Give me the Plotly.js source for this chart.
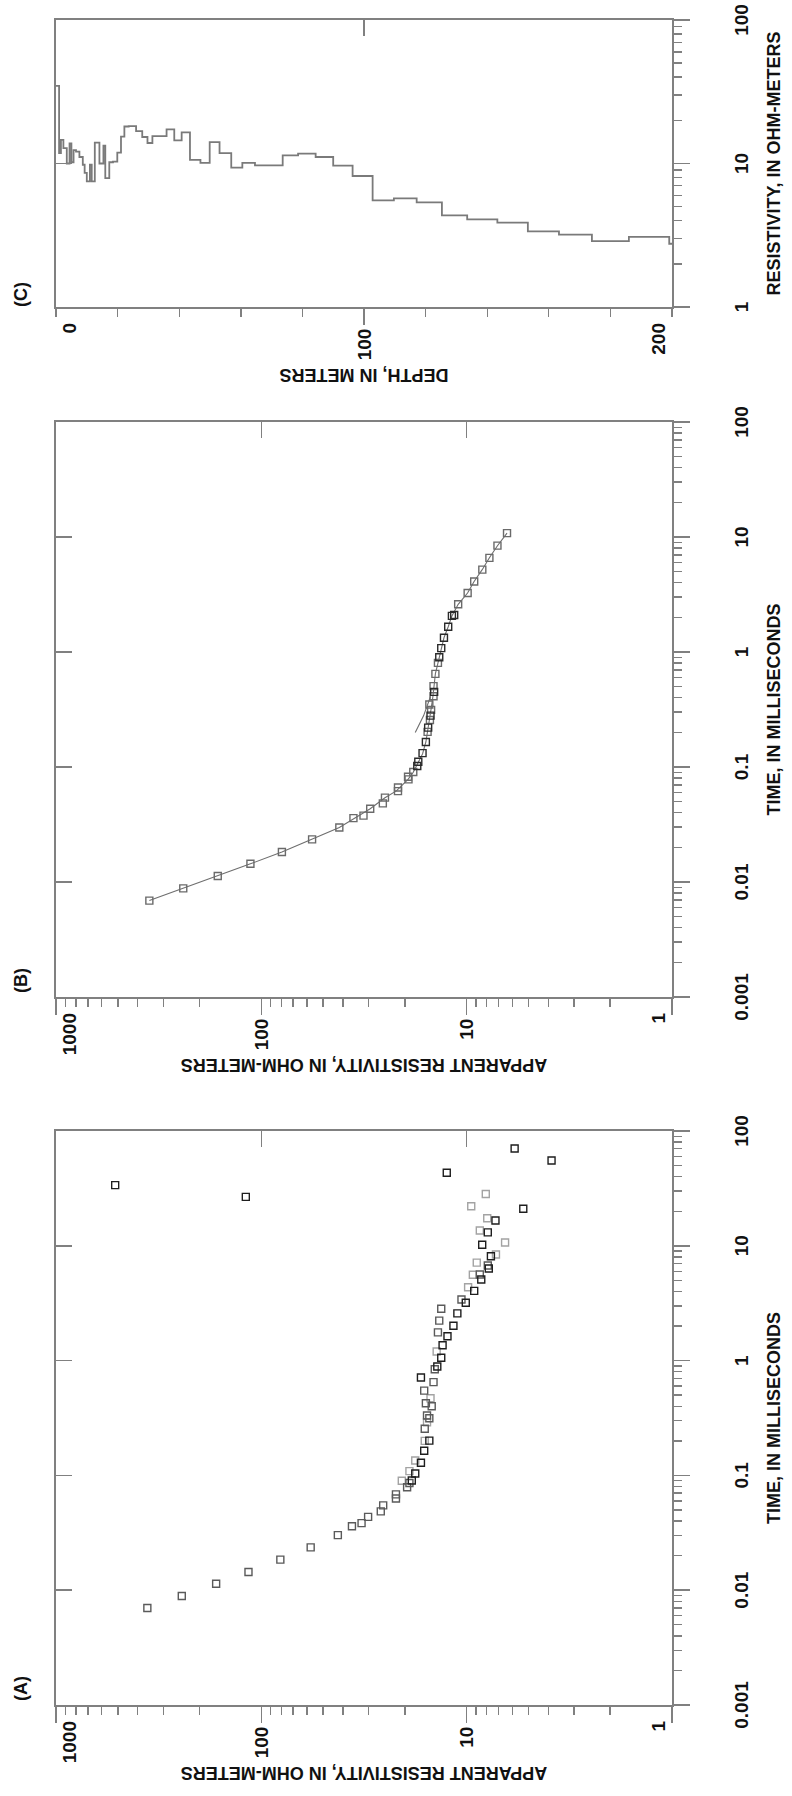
<!DOCTYPE html>
<html>
<head>
<meta charset="utf-8">
<script src="https://cdn.plot.ly/plotly-3.0.1.min.js"></script>
<style>
  html, body { margin: 0; padding: 0; width: 792px; height: 1796px; overflow: hidden; background: #fff; }
  #plot { position: absolute; left: 0; top: 0; width: 1796px; height: 792px;
          transform-origin: 0 0; transform: translate(0px, 1796px) rotate(-90deg); }
</style>
</head>
<body>
<div id="plot"></div>
<script>
// ---------------- tick labels ----------------
const timeTicks = [0.001, 0.01, 0.1, 1, 10, 100];
const timeTickText = ['0.001', '0.01', '0.1', '1', '10', '100'];
const rhoTicks = [1, 10, 100, 1000];
const rhoTickText = ['1', '10', '100', '1000'];
const layerRhoTicks = [1, 10, 100];
const layerRhoTickText = ['1', '10', '100'];
const depthTicks = [0, 100, 200];
const depthTickText = ['0', '100', '200'];

// ---------------- panel A : raw sounding data ----------------
const aDarkTime = [33.8, 26.7, 43.3, 70.3, 55.4, 21.0, 0.0903, 0.104, 0.129, 0.164, 0.201, 0.713, 0.889, 1.06, 1.36, 1.63, 2.01, 2.58, 3.19, 4.05, 5.08, 6.34, 8.11, 10.2, 13.1, 16.6];
const aDarkRho  = [515, 119, 12.5, 5.84, 3.86, 5.3, 18.5, 17.8, 16.7, 16.1, 15.2, 16.7, 13.9, 13.3, 13.1, 12.4, 11.6, 11.1, 10.1, 9.19, 8.49, 7.8, 7.62, 8.4, 7.89, 7.24];
const aMedTime = [0.0070, 0.00889, 0.01137, 0.01442, 0.01845, 0.0236, 0.0302, 0.0361, 0.0384, 0.0435, 0.0486, 0.0548, 0.0629, 0.0684, 0.0788, 0.0858, 0.255, 0.315, 0.332, 0.40, 0.425, 0.548, 0.65, 0.84, 1.76, 2.23, 2.83, 3.41, 5.63, 6.73];
const aMedRho  = [359, 244, 166, 115.5, 80.8, 57.5, 42.4, 36.2, 32.5, 30.2, 26.2, 25.5, 22.1, 22.1, 19.5, 19.0, 16.0, 15.2, 15.6, 14.8, 15.8, 16.1, 14.5, 14.3, 13.8, 13.6, 13.3, 10.6, 8.63, 7.89];
const aLightTime = [0.0897, 0.109, 0.135, 0.20, 0.29, 0.47, 1.2, 4.36, 5.59, 7.14, 8.39, 10.7, 13.6, 17.4, 22.1, 28.3];
const aLightRho  = [20.7, 19.0, 17.8, 16.0, 15.6, 15.0, 14.0, 9.84, 9.33, 8.93, 7.2, 6.5, 8.63, 7.94, 9.5, 8.07];

// ---------------- panel B : edited data + model curves ----------------
const bGrayTime = [0.00689, 0.00881, 0.01127, 0.0144, 0.01824, 0.0235, 0.0298, 0.0359, 0.0378, 0.0434, 0.0483, 0.0542, 0.0617, 0.0664, 0.078, 0.0822, 0.0906, 0.202, 0.256, 0.314, 0.35, 0.412, 0.505, 0.645, 0.805, 2.6, 3.26, 4.1, 5.2, 6.59, 8.42, 10.8];
const bGrayRho  = [351, 240, 163, 113, 79.4, 56.6, 41.7, 35.6, 31.8, 29.5, 25.6, 25.0, 21.6, 21.6, 19.2, 19.3, 18.2, 15.5, 15.1, 14.9, 15.2, 14.5, 14.5, 14.2, 13.8, 11.0, 9.89, 9.19, 8.39, 7.75, 7.08, 6.36];
const bDarkTime = [0.102, 0.111, 0.132, 0.165, 0.22, 0.28, 0.45, 0.9, 1.08, 1.33, 1.66, 2.06, 2.1];
const bDarkRho  = [17.4, 17.2, 16.4, 15.8, 15.4, 15.0, 14.4, 13.6, 13.3, 12.9, 12.3, 11.8, 11.5];
const bModelTime = [0.0069, 0.0088, 0.0113, 0.0144, 0.0182, 0.0235, 0.0298, 0.036, 0.0434, 0.054, 0.062, 0.078, 0.09, 0.11, 0.13, 0.165, 0.2, 0.26, 0.32, 0.41, 0.5, 0.65, 0.8, 1.0, 1.33, 1.66, 2.06, 2.6, 3.26, 4.1, 5.2, 6.6, 8.4, 10.8];
const bModelRho  = [351, 240, 163, 113, 79.4, 56.6, 41.7, 35, 29.5, 25, 22, 19.3, 18.2, 17.2, 16.4, 15.8, 15.5, 15.1, 14.9, 14.6, 14.4, 14.2, 13.8, 13.4, 12.9, 12.3, 11.8, 11.0, 9.9, 9.2, 8.4, 7.75, 7.08, 6.36];
const bModel2Time = [0.2, 0.28, 0.41];
const bModel2Rho  = [17.8, 16.2, 15.0];

// ---------------- panel C : layered resistivity model ----------------
const layerTop = [0, 1.0, 1.6, 2.4, 3.5, 4.4, 5.0, 5.7, 6.5, 7.6, 8.7, 9.3, 10.0, 11.0, 11.6, 12.6, 14.1, 15.4, 16.0, 17.3, 18.5, 19.9, 21.1, 22.2, 23.6, 26.0, 28.0, 29.7, 31.3, 35.9, 38.4, 40.8, 43.5, 46.9, 49.9, 53.1, 56.9, 60.5, 64.6, 73.6, 78.6, 84.3, 90.0, 96.3, 102.8, 109.7, 117.1, 125.3, 133.5, 143.3, 153.2, 163.3, 174.0, 186.0, 199.1];
const layerRho = [34.7, 11.8, 14.6, 12.8, 10.0, 13.8, 10.2, 12.4, 12.1, 11.1, 9.8, 8.6, 7.5, 9.8, 7.5, 14.0, 10.0, 13.3, 7.9, 10.2, 10.3, 11.9, 15.4, 18.1, 18.2, 16.8, 15.3, 13.9, 15.5, 17.3, 14.5, 16.5, 10.6, 10.1, 14.1, 11.8, 9.35, 10.1, 9.71, 11.4, 11.7, 11.1, 9.66, 8.18, 5.54, 5.72, 5.36, 4.35, 4.08, 3.87, 3.37, 3.19, 2.88, 3.08, 2.76];
const modelBottom = 200;

// ---------------- styling ----------------
const W = 1796, H = 792;
const FRAME = '#808080';
const INK = '#111111';
const SANS = '"Liberation Sans", Arial, Helvetica, sans-serif';
const TICKFONT = { family: SANS, size: 19, color: INK, weight: 'bold' };
const TITLEFONT = { family: SANS, size: 18, color: INK, weight: 'bold' };
const yDom = [(H - 672) / H, (H - 56) / H];
const panels = {
  A: [91 / W, 665 / W],
  B: [799 / W, 1374 / W],
  C: [1489 / W, 1776 / W]
};

function logMinor(lo, hi) {
  const v = [];
  for (let d = lo; d < hi; d++) for (let k = 2; k <= 9; k++) v.push(k * Math.pow(10, d));
  return v;
}
function linMinor(lo, hi, step) {
  const v = [];
  for (let x = lo; x <= hi + 1e-9; x += step) v.push(x);
  return v;
}
function minorTicks(vals) {
  return { tickmode: 'array', tickvals: vals, ticks: 'outside', ticklen: 8, tickwidth: 1.4, tickcolor: FRAME, showgrid: false };
}
function blankEnds(arr) {
  return arr.map((t, i) => (i === 0 || i === arr.length - 1) ? '' : t);
}

function mainAxis(opts) {
  return Object.assign({
    showline: true, linecolor: FRAME, linewidth: 1.8, mirror: true,
    ticks: 'outside', ticklen: 16, tickwidth: 1.6, tickcolor: FRAME,
    tickmode: 'array',
    showgrid: false, zeroline: false, fixedrange: true,
    tickfont: TICKFONT
  }, opts);
}
function mirrorAxis(opts) {
  return Object.assign({
    ticks: 'inside', ticklen: 16, tickwidth: 1.6, tickcolor: FRAME,
    tickmode: 'array', showticklabels: false, showline: false,
    showgrid: false, zeroline: false, fixedrange: true
  }, opts);
}
function labelAxis(opts) {
  return Object.assign({
    ticks: '', tickmode: 'array', showline: false, showgrid: false,
    zeroline: false, fixedrange: true, tickfont: TICKFONT, ticklabelstandoff: 15, side: 'left'
  }, opts);
}

const layout = {
  width: W, height: H,
  margin: { l: 0, r: 0, t: 0, b: 0 },
  paper_bgcolor: '#fff', plot_bgcolor: '#fff',
  showlegend: false,
  font: { family: SANS, color: INK },

  // ----- panel A -----
  xaxis: mainAxis({
    domain: panels.A, anchor: 'y', type: 'log', range: [-3, 2],
    tickvals: timeTicks, ticktext: timeTickText, ticklabelstandoff: 35,
    minor: minorTicks(logMinor(-3, 2)),
    title: { text: 'TIME, IN MILLISECONDS', font: TITLEFONT, standoff: 17 }
  }),
  yaxis: mainAxis({
    domain: yDom, anchor: 'x', type: 'log', range: [0, 3],
    tickvals: rhoTicks, ticktext: blankEnds(rhoTickText),
    minor: minorTicks(logMinor(0, 3)),
    title: { text: 'APPARENT RESISTIVITY, IN OHM-METERS', font: TITLEFONT, standoff: 3 }
  }),
  xaxis4: mirrorAxis({ overlaying: 'x', side: 'top', anchor: 'y', type: 'log', range: [-3, 2], tickvals: timeTicks }),
  yaxis4: mirrorAxis({ overlaying: 'y', side: 'right', anchor: 'x', type: 'log', range: [0, 3], tickvals: rhoTicks }),
  yaxis7: labelAxis({ overlaying: 'y', anchor: 'x', type: 'log', range: [0, 3], tickvals: [rhoTicks[3]], ticktext: [rhoTickText[3]], ticklabelposition: 'outside bottom' }),
  yaxis8: labelAxis({ overlaying: 'y', anchor: 'x', type: 'log', range: [0, 3], tickvals: [rhoTicks[0]], ticktext: [rhoTickText[0]], ticklabelposition: 'outside top' }),

  // ----- panel B -----
  xaxis2: mainAxis({
    domain: panels.B, anchor: 'y2', type: 'log', range: [-3, 2],
    tickvals: timeTicks, ticktext: timeTickText, ticklabelstandoff: 35,
    minor: minorTicks(logMinor(-3, 2)),
    title: { text: 'TIME, IN MILLISECONDS', font: TITLEFONT, standoff: 17 }
  }),
  yaxis2: mainAxis({
    domain: yDom, anchor: 'x2', type: 'log', range: [0, 3],
    tickvals: rhoTicks, ticktext: blankEnds(rhoTickText),
    minor: minorTicks(logMinor(0, 3)),
    title: { text: 'APPARENT RESISTIVITY, IN OHM-METERS', font: TITLEFONT, standoff: 3 }
  }),
  xaxis5: mirrorAxis({ overlaying: 'x2', side: 'top', anchor: 'y2', type: 'log', range: [-3, 2], tickvals: timeTicks }),
  yaxis5: mirrorAxis({ overlaying: 'y2', side: 'right', anchor: 'x2', type: 'log', range: [0, 3], tickvals: rhoTicks }),
  yaxis9: labelAxis({ overlaying: 'y2', anchor: 'x2', type: 'log', range: [0, 3], tickvals: [rhoTicks[3]], ticktext: [rhoTickText[3]], ticklabelposition: 'outside bottom' }),
  yaxis10: labelAxis({ overlaying: 'y2', anchor: 'x2', type: 'log', range: [0, 3], tickvals: [rhoTicks[0]], ticktext: [rhoTickText[0]], ticklabelposition: 'outside top' }),

  // ----- panel C -----
  xaxis3: mainAxis({
    domain: panels.C, anchor: 'y3', type: 'log', range: [0, 2],
    tickvals: layerRhoTicks, ticktext: layerRhoTickText, ticklabelstandoff: 35,
    minor: minorTicks(logMinor(0, 2)),
    title: { text: 'RESISTIVITY, IN OHM-METERS', font: TITLEFONT, standoff: 17 }
  }),
  yaxis3: mainAxis({
    domain: yDom, anchor: 'x3', type: 'linear', range: [200, 0],
    tickvals: depthTicks, ticktext: blankEnds(depthTickText),
    minor: minorTicks(linMinor(0, 200, 20)),
    title: { text: 'DEPTH, IN METERS', font: TITLEFONT, standoff: 3 }
  }),
  xaxis6: mirrorAxis({ overlaying: 'x3', side: 'top', anchor: 'y3', type: 'log', range: [0, 2], tickvals: layerRhoTicks }),
  yaxis6: mirrorAxis({ overlaying: 'y3', side: 'right', anchor: 'x3', type: 'linear', range: [200, 0], tickvals: depthTicks }),
  yaxis11: labelAxis({ overlaying: 'y3', anchor: 'x3', type: 'linear', range: [200, 0], tickvals: [depthTicks[0]], ticktext: [depthTickText[0]], ticklabelposition: 'outside bottom' }),
  yaxis12: labelAxis({ overlaying: 'y3', anchor: 'x3', type: 'linear', range: [200, 0], tickvals: [depthTicks[2]], ticktext: [depthTickText[2]], ticklabelposition: 'outside top' }),

  annotations: ['(A)', '(B)', '(C)'].map((t, i) => ({
    text: t, xref: (i === 0 ? 'x' : 'x' + (i + 1)) + ' domain', x: 0, xanchor: 'left', xshift: i === 2 ? -2 : 2,
    yref: 'paper', y: (H - 21.5) / H, yanchor: 'middle', showarrow: false,
    font: { family: SANS, size: 18, color: INK, weight: 'bold' }
  }))
};

function squares(x, y, color, xa, ya) {
  return {
    type: 'scatter', mode: 'markers', x: x, y: y, xaxis: xa, yaxis: ya,
    marker: { symbol: 'square-open', size: 7, color: color, line: { width: 1.4, color: color } },
    hoverinfo: 'skip'
  };
}
// empty carriers so that the overlay (mirror-tick / end-label) axes get drawn
function axisCarrier(xa, ya) {
  return { type: 'scatter', mode: 'markers', x: [], y: [], xaxis: xa, yaxis: ya, hoverinfo: 'skip', showlegend: false };
}

const traces = [
  // panel A
  squares(aLightTime, aLightRho, '#a3a3a3', 'x', 'y'),
  squares(aMedTime, aMedRho, '#5a5a5a', 'x', 'y'),
  squares(aDarkTime, aDarkRho, '#1e1e1e', 'x', 'y'),
  // panel B
  { type: 'scatter', mode: 'lines', x: bModelTime, y: bModelRho, xaxis: 'x2', yaxis: 'y2',
    line: { color: '#6e6e6e', width: 1.1 }, hoverinfo: 'skip' },
  { type: 'scatter', mode: 'lines', x: bModel2Time, y: bModel2Rho, xaxis: 'x2', yaxis: 'y2',
    line: { color: '#6e6e6e', width: 1.1 }, hoverinfo: 'skip' },
  squares(bGrayTime, bGrayRho, '#6a6a6a', 'x2', 'y2'),
  squares(bDarkTime, bDarkRho, '#2a2a2a', 'x2', 'y2'),
  // panel C
  { type: 'scatter', mode: 'lines', x: layerRho.concat([layerRho[layerRho.length - 1]]), y: layerTop.concat([modelBottom]),
    xaxis: 'x3', yaxis: 'y3', line: { color: '#7a7a7a', width: 1.8, shape: 'vh' }, hoverinfo: 'skip' },
  // overlay axes
  axisCarrier('x4', 'y'), axisCarrier('x', 'y4'), axisCarrier('x', 'y7'), axisCarrier('x', 'y8'),
  axisCarrier('x5', 'y2'), axisCarrier('x2', 'y5'), axisCarrier('x2', 'y9'), axisCarrier('x2', 'y10'),
  axisCarrier('x6', 'y3'), axisCarrier('x3', 'y6'), axisCarrier('x3', 'y11'), axisCarrier('x3', 'y12')
];

Plotly.newPlot('plot', traces, layout, { staticPlot: true, displayModeBar: false });
</script>
</body>
</html>
